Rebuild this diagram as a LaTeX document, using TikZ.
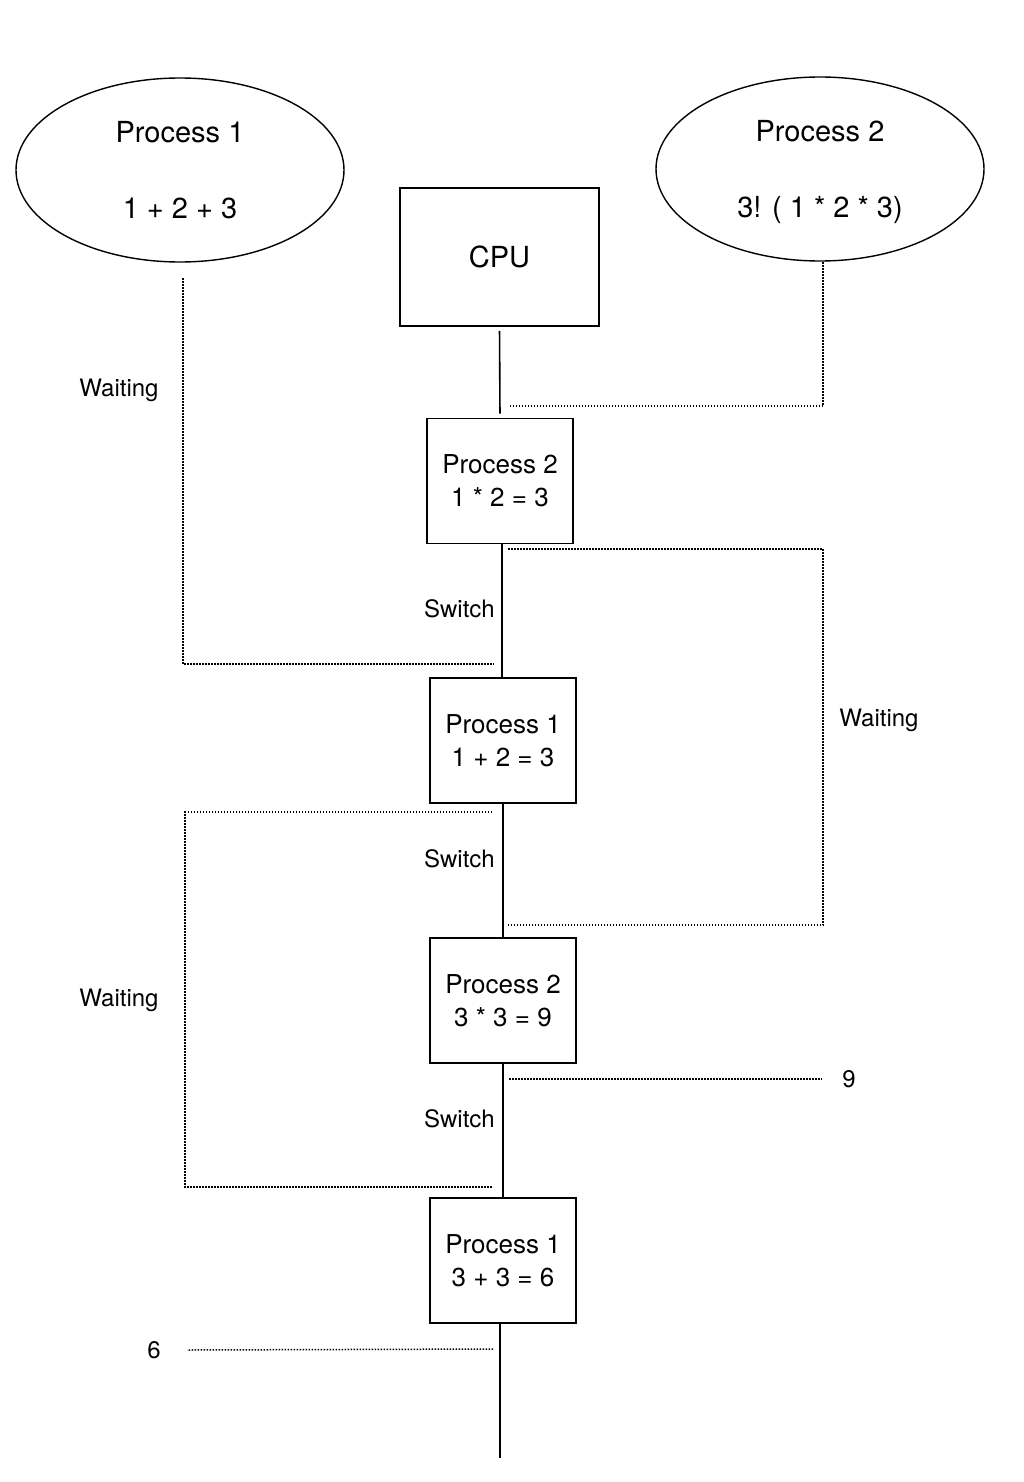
\documentclass[tikz,border=0pt]{standalone}
\usepackage{fontspec}
\setmainfont{TeX Gyre Heros}
\usetikzlibrary{shapes.geometric}
\begin{document}
\begin{tikzpicture}[x=1pt,y=-1pt,
  proc/.style={ellipse,draw,line width=1.4pt,minimum width=328pt,minimum height=184pt,inner sep=0pt,align=center,text depth=0pt,font=\fontsize{29}{76}\selectfont},
  cpubox/.style={rectangle,draw,line width=1.6pt,minimum width=199pt,minimum height=138pt,inner sep=0pt,font=\fontsize{29}{34}\selectfont},
  stepbox/.style={rectangle,draw,line width=1.6pt,minimum width=146pt,minimum height=125pt,inner sep=0pt,align=center,font=\fontsize{26}{33}\selectfont},
  flow/.style={line width=1.6pt},
  waitline/.style={line width=1.5pt,dash pattern=on 1.5pt off 1.5pt},
  lbl/.style={font=\fontsize{24}{28}\selectfont,inner sep=0pt}]
\useasboundingbox (0,0) rectangle (1024,1482);
% process ellipses
\node[proc] (E1) at (180,170) {Process 1\\1 + 2 + 3};
\node[proc] (E2) at (820,169) {Process 2\\3! ( 1 * 2 * 3)};
% CPU and steps
\node[cpubox] (cpu) at (499.5,257) {CPU};
\node[stepbox] (s1) at (500,481) {Process 2\\1 * 2 = 3};
\node[stepbox] (s2) at (503,740.5) {Process 1\\1 + 2 = 3};
\node[stepbox] (s3) at (503,1000.5) {Process 2\\3 * 3 = 9};
\node[stepbox] (s4) at (503,1260.5) {Process 1\\3 + 3 = 6};
\coordinate (tail) at (500,1458);
% solid timeline
\draw[flow,shorten <=4pt,shorten >=4pt] (cpu.south) -- (s1.north);
\draw[flow] (s1.south -| 502,0) -- (s2.north -| 502,0);
\draw[flow] (s2.south) -- (s3.north);
\draw[flow] (s3.south) -- (s4.north);
\draw[flow] (s4.south -| tail) -- (tail);
% switch labels
\node[lbl,anchor=east] (sw1) at (495,609) {Switch};
\node[lbl,anchor=east] (sw2) at (495,859) {Switch};
\node[lbl,anchor=east] (sw3) at (495,1119) {Switch};
% waiting: process 2 before start
\coordinate (a1) at (823,262);
\coordinate (a2) at (508,406);
\draw[waitline] (a1) |- (a2);
% waiting: process 1 first
\coordinate (b1) at (183,278);
\coordinate (b2) at (494,664);
\draw[waitline] (b1) |- (b2);
\node[lbl] (wt1) at (119,390) {Waiting};
% waiting: process 2 second
\coordinate (c1) at (508,549);
\coordinate (c2) at (823,737);
\coordinate (c3) at (508,925);
\draw[waitline] (c1) -| (c2) |- (c3);
\node[lbl] (wt2) at (879,720) {Waiting};
% waiting: process 1 second
\coordinate (d1) at (492,812);
\coordinate (d2) at (185,1000);
\coordinate (d3) at (492,1187);
\draw[waitline] (d1) -| (d2) |- (d3);
\node[lbl] (wt3) at (119,1000) {Waiting};
% results
\node[lbl] (r9) at (849,1079) {9};
\coordinate (e1) at (509,1079);
\draw[waitline] (e1) -- (r9.west -| 822,0);
\node[lbl] (r6) at (154,1350) {6};
\coordinate (f1) at (493,1349);
\draw[waitline] (f1) -- (r6.east -| 187,0);
\end{tikzpicture}
\end{document}
